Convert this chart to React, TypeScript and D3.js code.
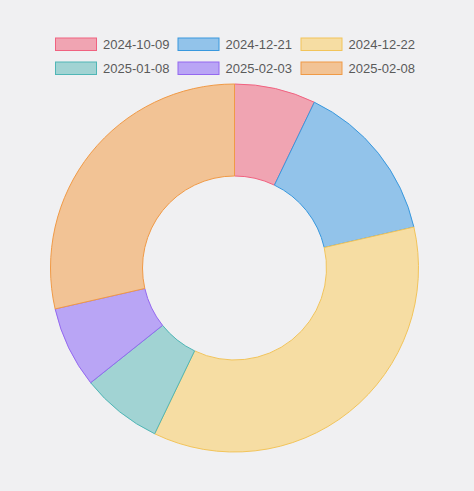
import React from "react";
import * as d3 from "d3";

const labels = ["2024-10-09", "2024-12-21", "2024-12-22", "2025-01-08", "2025-02-03", "2025-02-08"];
const values = [1, 2, 5, 1, 1, 4];
const borderColors = [
  "rgb(240, 98, 128)",
  "rgb(56, 152, 222)",
  "rgb(242, 196, 90)",
  "rgb(80, 182, 182)",
  "rgb(148, 104, 240)",
  "rgb(240, 154, 70)",
];
const fillColors = [
  "rgb(240, 164, 178)",
  "rgb(146, 195, 234)",
  "rgb(246, 221, 163)",
  "rgb(161, 211, 211)",
  "rgb(185, 165, 245)",
  "rgb(242, 195, 149)",
];

const W = 474;
const H = 491;
const cx = 234.5;
const cy = 268;
const outerR = 184;
const innerR = 92;

export default function App() {
  const pie = d3.pie<number>().sort(null).value((d) => d)(values);
  const arc = d3.arc<d3.PieArcDatum<number>>().innerRadius(innerR).outerRadius(outerR);

  const colX = [55, 177.5, 300.5];
  const rowY = [37.5, 61.5];

  return (
    <div style={{ position: "fixed", left: 0, top: 0, width: W, height: H, background: "rgb(240,240,242)" }}>
      <svg width={W} height={H} style={{ display: "block" }}>
        <rect x={0} y={0} width={W} height={H} fill="rgb(240,240,242)" />
        <g transform={`translate(${cx},${cy})`}>
          {pie.map((p, i) => (
            <path key={i} d={arc(p) || ""} fill={fillColors[i]} stroke={borderColors[i]} strokeWidth={1} />
          ))}
        </g>
        <g fontFamily="'Liberation Sans', Arial, Helvetica, sans-serif" fontSize={13} fill="#5a5a5a">
          {labels.map((l, i) => {
            const x = colX[i % 3];
            const y = rowY[Math.floor(i / 3)];
            return (
              <g key={i}>
                <rect x={x + 0.5} y={y + 0.5} width={41} height={12.5} fill={fillColors[i]} stroke={borderColors[i]} strokeWidth={1} />
                <text x={x + 48} y={y + 11.5}>{l}</text>
              </g>
            );
          })}
        </g>
      </svg>
    </div>
  );
}
